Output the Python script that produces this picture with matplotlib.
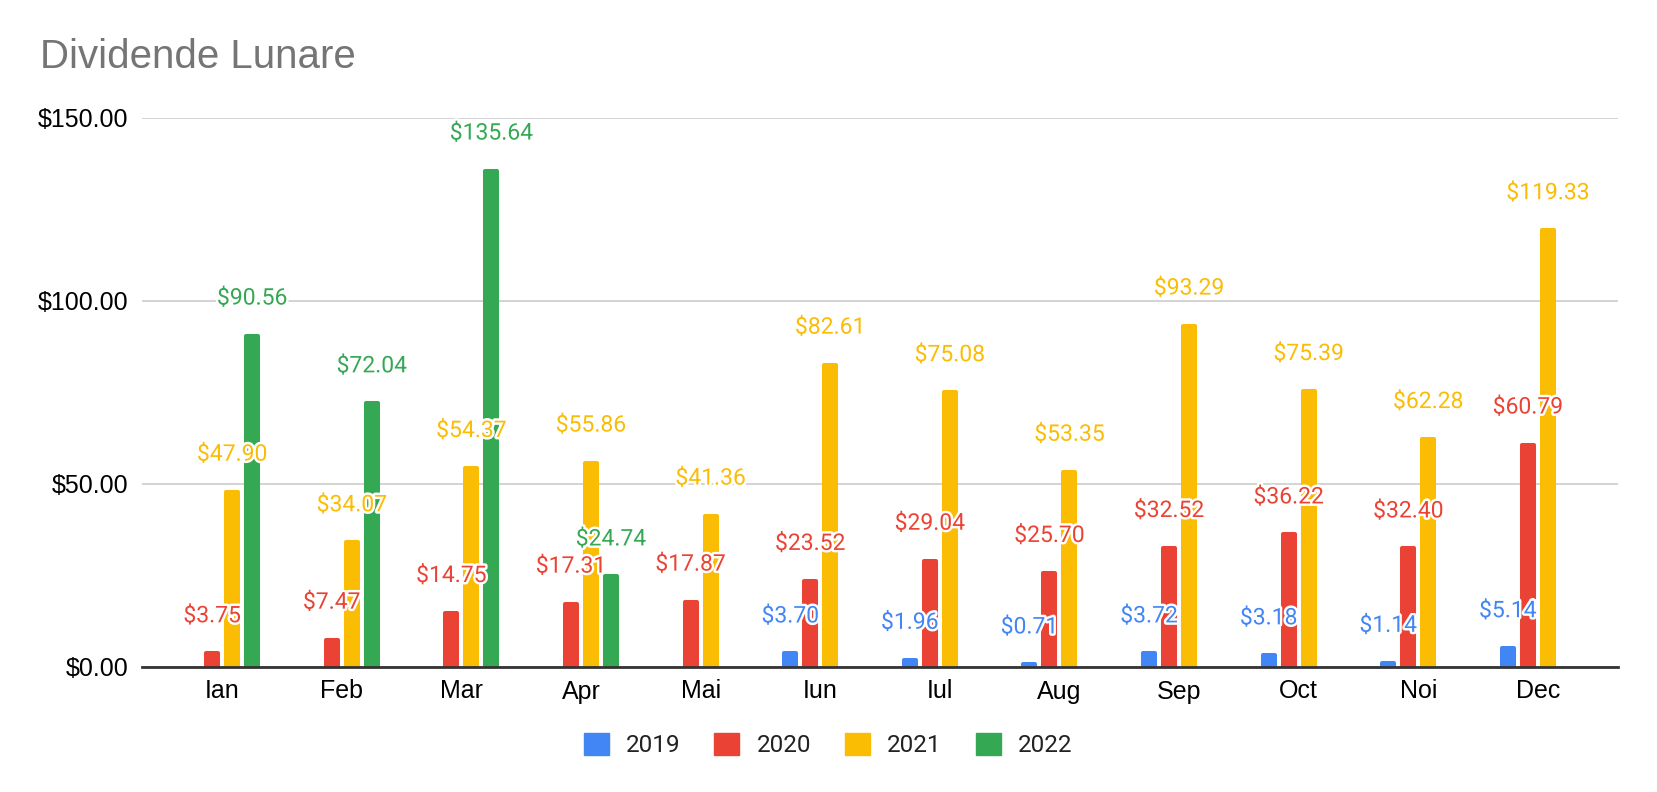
import matplotlib
matplotlib.use("Agg")
import matplotlib.pyplot as plt
import matplotlib.patheffects as pe
from matplotlib.patches import Patch
from matplotlib.ticker import FuncFormatter
import numpy as np

# date
luni = ["Ian", "Feb", "Mar", "Apr", "Mai", "Iun", "Iul", "Aug", "Sep", "Oct", "Noi", "Dec"]
ani = ["2019", "2020", "2021", "2022"]
nan = np.nan
d2019 = [nan, nan, nan, nan, nan, 3.70, 1.96, 0.71, 3.72, 3.18, 1.14, 5.14]
d2020 = [3.75, 7.47, 14.75, 17.31, 17.87, 23.52, 29.04, 25.70, 32.52, 36.22, 32.40, 60.79]
d2021 = [47.90, 34.07, 54.37, 55.86, 41.36, 82.61, 75.08, 53.35, 93.29, 75.39, 62.28, 119.33]
d2022 = [90.56, 72.04, 135.64, 24.74, nan, nan, nan, nan, nan, nan, nan, nan]
culori = ["#4285F4", "#EA4335", "#FBBC04", "#34A853"]

W, H = 1658, 792
fig = plt.figure(figsize=(W / 100, H / 100), dpi=100)
ax = fig.add_axes([142 / W, 1 - 667 / H, (1618 - 142) / W, (667 - 118) / H])

x = np.arange(len(luni))
step = 20 / 119.6
width = 12 / 119.6
serii = [d2019, d2020, d2021, d2022]

for i, (vals, c) in enumerate(zip(serii, culori)):
    xs = x + (i - 1.5) * step
    v = np.array(vals, dtype=float)
    ax.bar(xs, v, width=width, color=c, edgecolor=c, linewidth=2.9,
           joinstyle="round", zorder=2)
    for xi, vi in zip(xs, v):
        if np.isnan(vi):
            continue
        t = ax.annotate(f"${vi:.2f}", (xi, vi), xytext=(0, 27), textcoords="offset points",
                        ha="center", va="center", color=c, fontsize=16.5,
                        family=["Roboto", "DejaVu Sans"], zorder=5, annotation_clip=False)
        t.set_path_effects([pe.withStroke(linewidth=3.5, foreground="white")])

ax.set_xlim(-0.67, 11.67)
ax.set_ylim(0, 150)
ax.set_yticks([0, 50, 100, 150])
ax.yaxis.set_major_formatter(FuncFormatter(lambda v, p: f"${v:.2f}"))
ax.set_xticks(x)
ax.set_xticklabels(luni)
ax.tick_params(axis="both", length=0, labelsize=18, colors="#000000")
ax.tick_params(axis="y", pad=10)
ax.tick_params(axis="x", pad=9)
for lab in ax.get_xticklabels() + ax.get_yticklabels():
    lab.set_family(["Liberation Sans", "DejaVu Sans"])

ax.grid(axis="y", color="#cccccc", linewidth=1.2, zorder=0)
ax.set_axisbelow(True)
for s in ["top", "right", "left"]:
    ax.spines[s].set_visible(False)
ax.spines["bottom"].set_color("#333333")
ax.spines["bottom"].set_linewidth(2)
ax.spines["bottom"].set_zorder(3)

fig.text(40 / W, 1 - 57 / H, "Dividende Lunare", fontsize=29, color="#757575",
         ha="left", va="center", family=["Liberation Sans", "DejaVu Sans"])

handles = [Patch(facecolor=c, edgecolor=c) for c in culori]
leg = fig.legend(handles, ani, loc="center", bbox_to_anchor=(828 / W, 1 - 745 / H),
                 ncol=4, frameon=False, handlelength=1.03, handleheight=1.03,
                 handletextpad=0.7, columnspacing=1.4,
                 prop={"family": ["Roboto", "DejaVu Sans"], "size": 17.5})
for t in leg.get_texts():
    t.set_color("#222222")

fig.savefig("out.png", dpi=100, facecolor="white")
